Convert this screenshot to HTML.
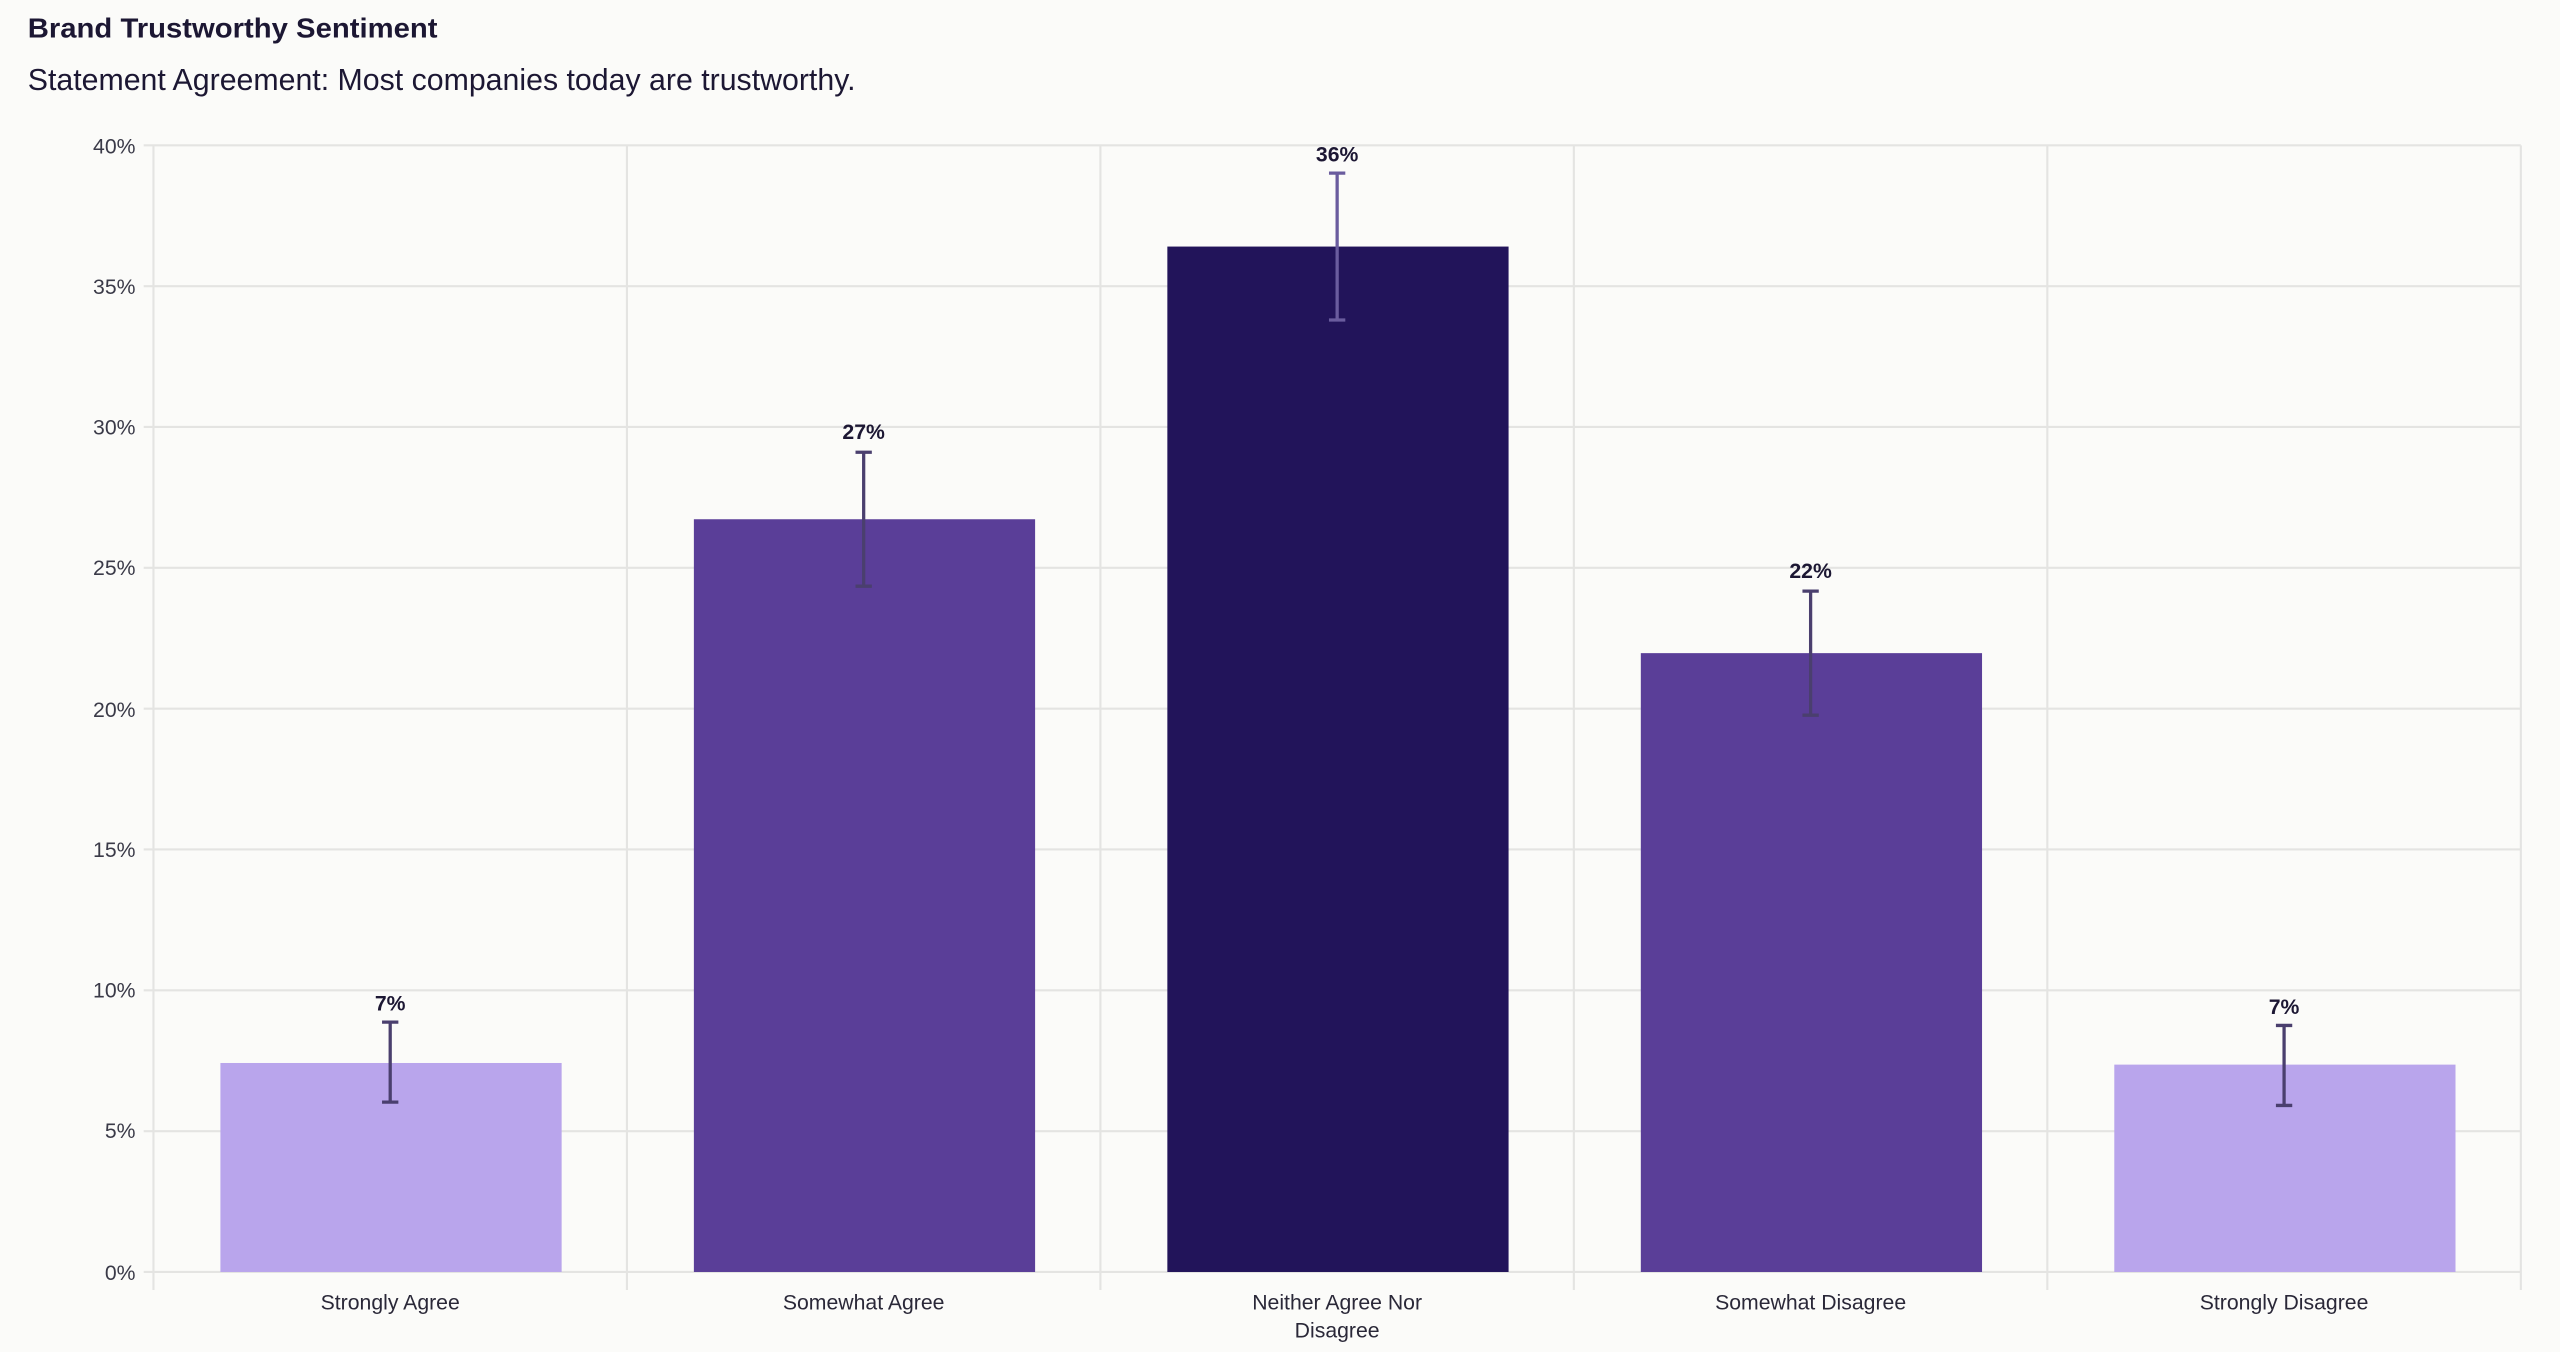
<!DOCTYPE html>
<html><head><meta charset="utf-8"><style>
html,body{margin:0;padding:0;background:#fbfbf9;}
svg{display:block}
text{font-family:"Liberation Sans",sans-serif;}
</style></head><body>
<svg width="2560" height="1352" viewBox="0 0 1568 828" preserveAspectRatio="none" xmlns="http://www.w3.org/2000/svg">
<rect width="1568" height="828" fill="#fbfbf9"/>
<text x="17" y="23" font-size="17" font-weight="bold" fill="#1c1733" textLength="251" lengthAdjust="spacingAndGlyphs">Brand Trustworthy Sentiment</text>
<text x="17" y="55" font-size="18.5" fill="#1c1733" textLength="507" lengthAdjust="spacingAndGlyphs">Statement Agreement: Most companies today are trustworthy.</text>
<g stroke="#e4e4e2" stroke-width="1.3">
<line x1="88" y1="89" x2="1544" y2="89"/>
<line x1="88" y1="175.25" x2="1544" y2="175.25"/>
<line x1="88" y1="261.5" x2="1544" y2="261.5"/>
<line x1="88" y1="347.75" x2="1544" y2="347.75"/>
<line x1="88" y1="434" x2="1544" y2="434"/>
<line x1="88" y1="520.25" x2="1544" y2="520.25"/>
<line x1="88" y1="606.5" x2="1544" y2="606.5"/>
<line x1="88" y1="692.75" x2="1544" y2="692.75"/>
<line x1="88" y1="779" x2="1544" y2="779"/>
<line x1="94" y1="89" x2="94" y2="790"/>
<line x1="384" y1="89" x2="384" y2="790"/>
<line x1="674" y1="89" x2="674" y2="790"/>
<line x1="964" y1="89" x2="964" y2="790"/>
<line x1="1254" y1="89" x2="1254" y2="790"/>
<line x1="1544" y1="89" x2="1544" y2="790"/>
</g>
<g font-size="13" fill="#3a3a48" text-anchor="end">
<text x="83" y="94">40%</text><text x="83" y="180">35%</text><text x="83" y="266">30%</text>
<text x="83" y="352">25%</text><text x="83" y="439">20%</text><text x="83" y="525">15%</text>
<text x="83" y="611">10%</text><text x="83" y="697">5%</text><text x="83" y="784">0%</text>
</g>
<rect x="135" y="651" width="209" height="128" fill="#b9a5ec"/>
<rect x="425" y="318" width="209" height="461" fill="#5a3e98"/>
<rect x="715" y="151" width="209" height="628" fill="#22145a"/>
<rect x="1005" y="400" width="209" height="379" fill="#5a3e98"/>
<rect x="1295" y="652" width="209" height="127" fill="#b9a5ec"/>
<g stroke="#4a3f6e" stroke-width="2">
<line x1="239" y1="626" x2="239" y2="675"/><line x1="234" y1="626" x2="244" y2="626"/><line x1="234" y1="675" x2="244" y2="675"/>
<line x1="529" y1="277" x2="529" y2="359"/><line x1="524" y1="277" x2="534" y2="277"/><line x1="524" y1="359" x2="534" y2="359"/>
<line x1="1109" y1="362" x2="1109" y2="438"/><line x1="1104" y1="362" x2="1114" y2="362"/><line x1="1104" y1="438" x2="1114" y2="438"/>
<line x1="1399" y1="628" x2="1399" y2="677"/><line x1="1394" y1="628" x2="1404" y2="628"/><line x1="1394" y1="677" x2="1404" y2="677"/>
</g>
<g stroke="#6a5c9e" stroke-width="2">
<line x1="819" y1="106" x2="819" y2="196"/><line x1="814" y1="106" x2="824" y2="106"/><line x1="814" y1="196" x2="824" y2="196"/>
</g>
<g font-size="13" font-weight="bold" fill="#1c1733" text-anchor="middle">
<text x="239" y="619">7%</text><text x="529" y="269">27%</text><text x="819" y="99">36%</text>
<text x="1109" y="354">22%</text><text x="1399" y="621">7%</text>
</g>
<g font-size="13" fill="#2a2838" text-anchor="middle">
<text x="239" y="802">Strongly Agree</text><text x="529" y="802">Somewhat Agree</text>
<text x="819" y="802">Neither Agree Nor</text><text x="819" y="819">Disagree</text>
<text x="1109" y="802">Somewhat Disagree</text><text x="1399" y="802">Strongly Disagree</text>
</g>
</svg>
</body></html>
